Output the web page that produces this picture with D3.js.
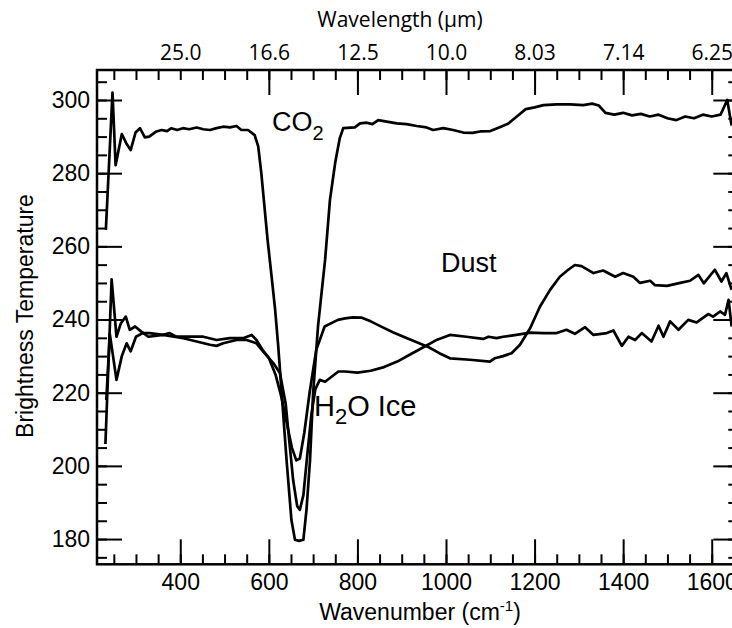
<!DOCTYPE html>
<html>
<head>
<script src="https://d3js.org/d3.v7.min.js"></script>
<style>
body { margin: 0; background: #fff; }
.lbl { font-family: "Liberation Sans", Arial, sans-serif; font-size: 23px; fill: #000; }
.big { font-family: "Liberation Sans", Arial, sans-serif; font-size: 27px; fill: #000; }
.top { font-family: "Open Sans", sans-serif; font-size: 21px; fill: #000; }
.curve { fill: none; stroke: #000; stroke-width: 2.7px; stroke-linejoin: round; }
</style>
</head>
<body>
<script>
// wavenumber (cm-1), brightness temperature (K)
var co2 = [[232,264.5],[247,302],[254,282.2],[268,290.7],[278,288.2],[288,286.3],[299,291.1],[309,292.3],
  [320,289.8],[330,290],[346,291.4],[358,291.8],[370,291.5],[380,292.3],[393,291.8],[406,292.3],[420,292],
  [437,292.5],[452,292],[467,291.8],[482,292.3],[497,292.7],[512,292.5],[527,292.9],[538,291.8],[553,291.8],
  [568,290.4],[576,287.3],[583,280],[590,271],[597,262],[606,252],[614,243],[621,233],[629,219.9],
  [640,201.6],[651,185.2],[659,179.8],[668,179.5],[678,179.8],[685,188],[693,201.6],[700,219.9],[711,238.1],
  [727,256.3],[738,272.7],[750,283],[760,289.5],[768,292.3],[794,292.5],[806,293.6],[821,293.8],[834,293.4],
  [847,294.5],[866,294.1],[889,293.6],[911,293.4],[934,292.9],[956,292.5],[971,291.8],[994,292.3],
  [1016,291.8],[1039,291.1],[1060,291],[1077,291.4],[1100,291.5],[1120,292.5],[1140,293.5],[1160,295.5],
  [1180,297.5],[1200,298],[1220,298.6],[1250,298.8],[1280,298.8],[1310,298.6],[1330,299],[1345,298.5],
  [1360,296.5],[1380,296],[1400,296.5],[1420,295.8],[1440,296.2],[1460,295.5],[1480,296],[1500,295],
  [1520,294.5],[1540,295.5],[1560,295],[1580,296],[1600,295.5],[1620,296],[1635,300],[1645,293]];

var dust = [[233,218],[241,236],[256,223.5],[268,230],[279,233.5],[288,231.3],[300,235.3],[315,236.3],
  [331,236.3],[361,235.8],[376,236.3],[391,235.3],[421,235.3],[452,235.3],[482,234.4],[512,234.9],
  [542,234.9],[561,235.8],[572,234.4],[587,231.5],[600,229.5],[615,225],[628,219],[640,212],[652,205],
  [662,201.5],[670,202],[680,209],[692,220],[707,231.7],[726,238.1],[756,239.9],[772,240.3],[790,240.6],
  [810,240.5],[830,239.5],[855,238],[880,236.5],[900,235.5],[930,234],[960,232.5],[985,230.8],
  [1009,229.4],[1054,229],[1099,228.5],[1110,229.4],[1129,230],[1148,230.8],[1167,233.1],
  [1190,237.6],[1212,243.5],[1235,248.1],[1257,251.7],[1276,253.6],[1291,254.9],[1306,254.6],[1333,252.7],
  [1355,253.4],[1382,251.7],[1400,252.7],[1423,251.7],[1438,250],[1461,250.6],[1472,249.4],[1499,249.2],
  [1529,250],[1551,250.6],[1570,252.2],[1582,249.9],[1607,253.6],[1622,250.4],[1633,252.7],[1645,248.1]];

var ice = [[231,206],[245,251],[256,235.3],[266,239],[277,240.8],[286,237.2],[298,238.1],[312,236.7],
  [328,235.3],[361,235.8],[407,234.9],[437,234],[467,233.1],[482,232.8],[497,233.5],[527,234.4],
  [550,234.4],[572,233.5],[587,231.3],[610,228.1],[625,225.4],[638,217],[646,207],[655,196],[664,189],
  [670,188],[678,192],[686,202],[696,214],[705,221],[715,223.5],[727,223],[757,225.8],[772,225.8],
  [800,225.5],[830,226],[860,227],[890,228.5],[920,230.5],[950,232.5],[980,234.5],[1009,235.8],
  [1046,235.3],[1084,234.7],[1096,235.3],[1114,234.9],[1129,235.3],[1159,235.8],[1190,236.4],[1220,236.3],
  [1250,236.3],[1272,237.2],[1291,236.1],[1314,237.9],[1333,235.8],[1363,236.3],[1378,237],[1397,232.8],
  [1412,235.3],[1427,234.4],[1442,236.3],[1464,234],[1480,238.3],[1491,235.3],[1506,239.5],[1525,237.2],
  [1547,239.9],[1566,239.2],[1592,241.5],[1603,240.8],[1619,242.2],[1630,241.3],[1638,245.4],[1645,238.1]];

var bottomTicks = [400, 600, 800, 1000, 1200, 1400, 1600];
var topMajor = [600, 800, 1000, 1200, 1400, 1600];
var topLabels = ["25.0", "16.6", "12.5", "10.0", "8.03", "7.14", "6.25"];
var leftTicks = [180, 200, 220, 240, 260, 280, 300];

var W = 732, H = 628;
var x = d3.scaleLinear().domain([212, 1660]).range([97, 738.3]);
var y = d3.scaleLinear().domain([173.1, 308.2]).range([564.3, 70]);

var svg = d3.select("body").append("svg").attr("width", W).attr("height", H);

var minorX = d3.range(250, 1651, 50);
var minorY = d3.range(175, 306, 5);

function clean(g) {
  g.select(".domain").remove();
  g.selectAll(".tick line").attr("stroke", "#000").attr("stroke-width", 2);
  g.selectAll("text").attr("fill", "#000");
  return g;
}

// bottom
svg.append("g").attr("transform", "translate(0," + y.range()[0] + ")")
  .call(d3.axisBottom(x).tickValues(minorX).tickSize(-10).tickFormat("")).call(clean);
svg.append("g").attr("transform", "translate(0," + y.range()[0] + ")")
  .call(d3.axisBottom(x).tickValues(bottomTicks).tickSize(-25).tickPadding(9).tickFormat(d3.format("d")))
  .call(clean).selectAll("text").attr("class", "lbl");

// top
svg.append("g").attr("transform", "translate(0," + y.range()[1] + ")")
  .call(d3.axisTop(x).tickValues(minorX).tickSize(-10).tickFormat("")).call(clean);
svg.append("g").attr("transform", "translate(0," + y.range()[1] + ")")
  .call(d3.axisTop(x).tickValues(topMajor).tickSize(-25).tickFormat("")).call(clean);
svg.append("g").attr("transform", "translate(0," + y.range()[1] + ")")
  .call(d3.axisTop(x).tickValues(bottomTicks).tickSize(0).tickPadding(10)
    .tickFormat(function(d, i) { return topLabels[i]; }))
  .call(clean).selectAll("text").attr("class", "top");

// left
svg.append("g").attr("transform", "translate(" + x.range()[0] + ",0)")
  .call(d3.axisLeft(y).tickValues(minorY).tickSize(-10).tickFormat("")).call(clean);
svg.append("g").attr("transform", "translate(" + x.range()[0] + ",0)")
  .call(d3.axisLeft(y).tickValues(leftTicks).tickSize(-25).tickPadding(7).tickFormat(d3.format("d")))
  .call(clean).selectAll("text").attr("class", "lbl");

// right
svg.append("g").attr("transform", "translate(" + x.range()[1] + ",0)")
  .call(d3.axisRight(y).tickValues(minorY).tickSize(-10).tickFormat("")).call(clean);
svg.append("g").attr("transform", "translate(" + x.range()[1] + ",0)")
  .call(d3.axisRight(y).tickValues(leftTicks).tickSize(-25).tickFormat("")).call(clean);

// frame
svg.append("rect")
  .attr("x", x.range()[0]).attr("y", y.range()[1])
  .attr("width", x.range()[1] - x.range()[0]).attr("height", y.range()[0] - y.range()[1])
  .attr("fill", "none").attr("stroke", "#000").attr("stroke-width", 2.5);

// curves
var line = d3.line().x(function(d) { return x(d[0]); }).y(function(d) { return y(d[1]); });
[co2, dust, ice].forEach(function(s) {
  svg.append("path").datum(s).attr("class", "curve").attr("d", line);
});

// labels
var t = svg.append("text").attr("class", "big").attr("x", 272).attr("y", 131);
t.append("tspan").text("CO");
t.append("tspan").attr("font-size", 20).attr("dy", 9).text("2");

svg.append("text").attr("class", "big").attr("x", 441).attr("y", 272).text("Dust");

var h = svg.append("text").attr("class", "big").attr("x", 314).attr("y", 416)
  .attr("font-size", 29).style("font-size", "29px");
h.append("tspan").text("H");
h.append("tspan").attr("font-size", 22).style("font-size", "22px").attr("dy", 8).text("2");
h.append("tspan").attr("dy", -8).text("O Ice");

// axis titles
svg.append("text").attr("class", "top").attr("x", 400).attr("y", 27)
  .attr("text-anchor", "middle").text("Wavelength (\u03bcm)");

var xt = svg.append("text").attr("class", "lbl").attr("x", 420).attr("y", 620).attr("text-anchor", "middle");
xt.append("tspan").text("Wavenumber (cm");
xt.append("tspan").attr("font-size", 15).attr("dy", -9).text("-1");
xt.append("tspan").attr("dy", 9).text(")");

svg.append("text").attr("class", "lbl")
  .attr("transform", "translate(33,316) rotate(-90)")
  .attr("text-anchor", "middle").text("Brightness Temperature");
</script>
</body>
</html>
